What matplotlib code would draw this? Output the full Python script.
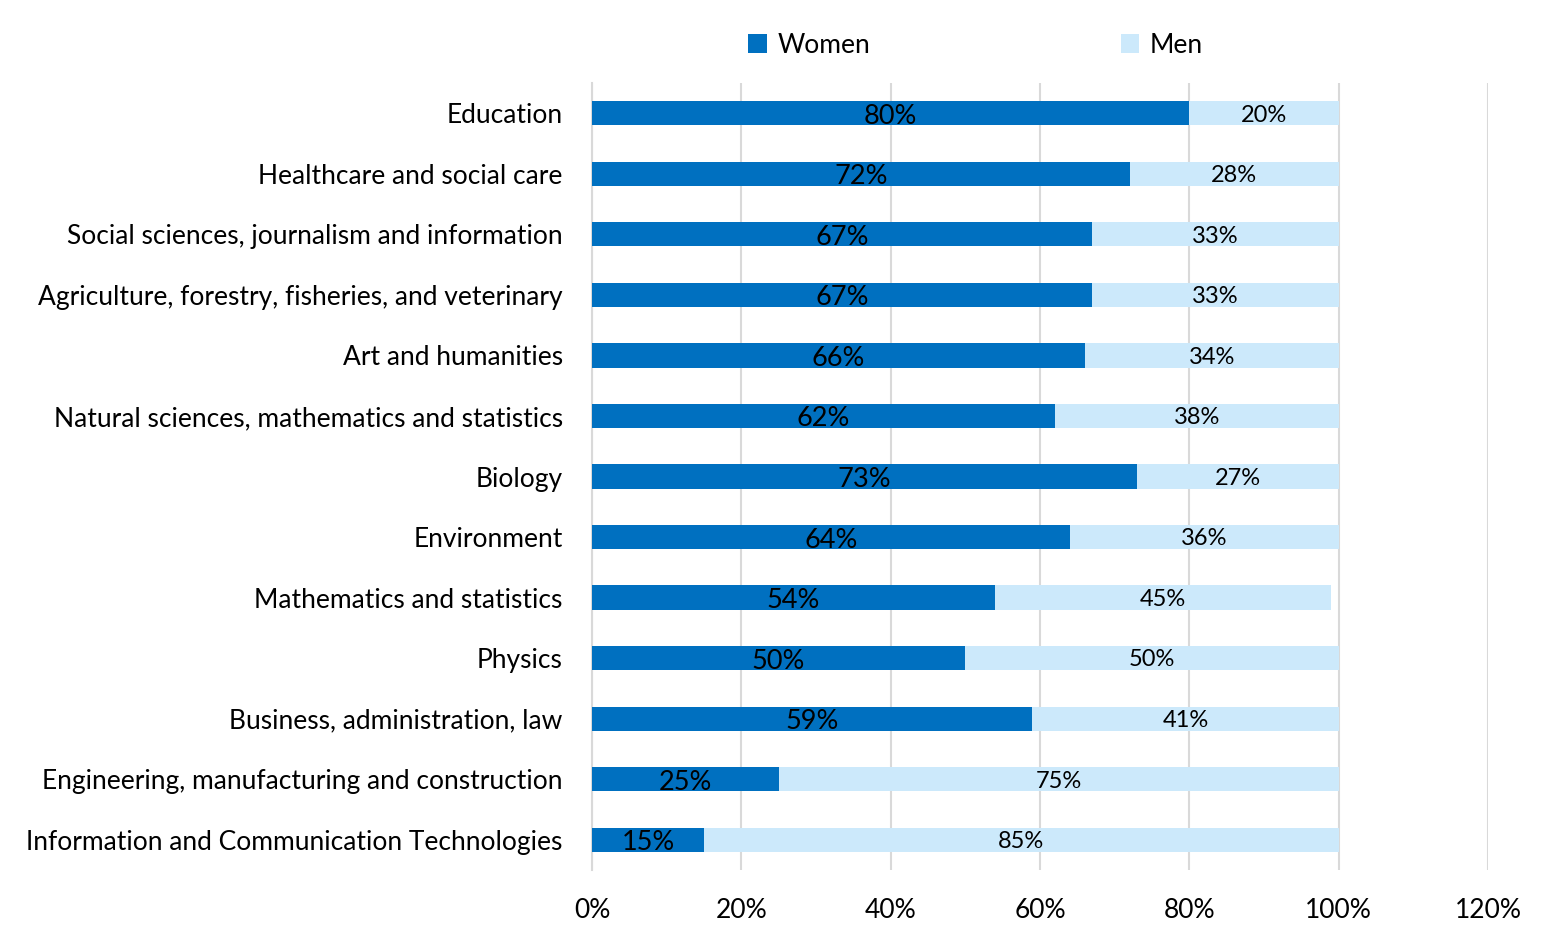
import numpy as np
import matplotlib.pyplot as plt

plt.rcParams['font.family'] = ['Lato', 'DejaVu Sans']

fields = ["Education", "Healthcare and social care",
          "Social sciences, journalism and information",
          "Agriculture, forestry, fisheries, and veterinary",
          "Art and humanities",
          "Natural sciences, mathematics and statistics",
          "Biology", "Environment", "Mathematics and statistics", "Physics",
          "Business, administration, law",
          "Engineering, manufacturing and construction",
          "Information and Communication Technologies"]
women = [80, 72, 67, 67, 66, 62, 73, 64, 54, 50, 59, 25, 15]
men = [20, 28, 33, 33, 34, 38, 27, 36, 45, 50, 41, 75, 85]

women_c = "#0070C0"
men_c = "#CCE9FB"

fig = plt.figure(figsize=(15.44, 9.38), dpi=100)
ax = fig.add_axes([0.3834, 0.0725, 0.5803, 0.839])

y = np.arange(len(fields))[::-1]
w = np.array(women) / 100
m = np.array(men) / 100
ax.barh(y, w, height=0.4, color=women_c, label="Women", zorder=3)
ax.barh(y, m, left=w, height=0.4, color=men_c, label="Men", zorder=3)

for yi, wi, mi in zip(y, w, m):
    ax.text(wi / 2, yi - 0.05, f"{round(wi*100)}%", ha='center', va='center',
            fontsize=19.5, color='black', zorder=4)
    ax.text(wi + mi / 2, yi - 0.03, f"{round(mi*100)}%", ha='center', va='center',
            fontsize=17, color='black', zorder=4)

ax.set_xlim(0, 1.2)
ax.set_ylim(-0.5, len(fields) - 0.5)
ax.set_xticks(np.arange(0, 1.21, 0.2))
ax.set_xticklabels([f"{int(round(t*100))}%" for t in np.arange(0, 1.21, 0.2)])
ax.set_yticks(y)
ax.set_yticklabels(fields)
ax.tick_params(axis='both', length=0, labelsize=19)
ax.tick_params(axis='x', pad=20)
ax.tick_params(axis='y', pad=21)
ax.grid(axis='x', color='#D9D9D9', linewidth=1.5, zorder=0)
for s in ['top', 'right', 'bottom']:
    ax.spines[s].set_visible(False)
ax.spines['left'].set_color('#D9D9D9')
ax.spines['left'].set_linewidth(1.5)

ax.legend(loc='lower center', bbox_to_anchor=(0.428, 1.0), ncol=2, frameon=False,
          fontsize=19, handlelength=0.7, handleheight=0.7, handletextpad=0.4,
          columnspacing=9.5, borderaxespad=0.55)

fig.savefig("out.png", dpi=100)
